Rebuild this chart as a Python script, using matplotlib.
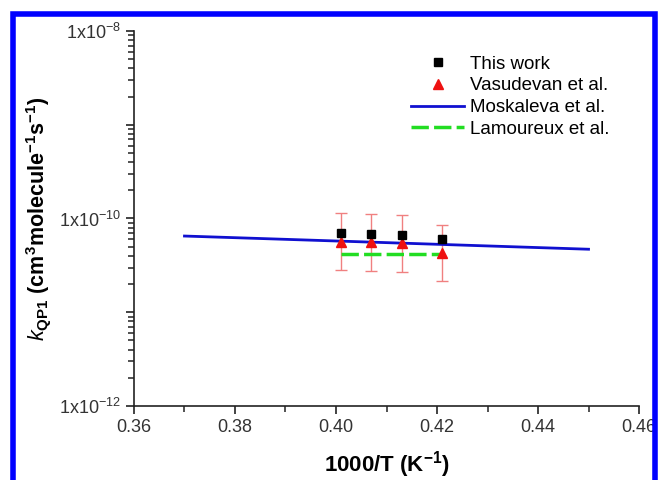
import matplotlib
matplotlib.use('Agg')
import matplotlib.pyplot as plt
from matplotlib.patches import Rectangle
from matplotlib.ticker import FixedLocator, NullFormatter, MultipleLocator, FormatStrFormatter

plt.rcParams['font.family'] = ['Liberation Sans', 'DejaVu Sans']
plt.rcParams['mathtext.fontset'] = 'custom'
plt.rcParams['mathtext.rm'] = 'Liberation Sans'
plt.rcParams['mathtext.it'] = 'Liberation Sans:italic'
plt.rcParams['mathtext.bf'] = 'Liberation Sans:bold'

# This work
x_this = [0.401, 0.407, 0.413, 0.421]
k_this = [7.0e-11, 6.85e-11, 6.7e-11, 6.05e-11]

# Vasudevan et al. (with error bars)
x_vas = [0.401, 0.407, 0.413, 0.421]
k_vas = [5.6e-11, 5.55e-11, 5.5e-11, 4.3e-11]
k_vas_hi = [1.15e-10, 1.12e-10, 1.08e-10, 8.5e-11]
k_vas_lo = [2.8e-11, 2.75e-11, 2.7e-11, 2.15e-11]

# Moskaleva et al.
x_mos = [0.37, 0.45]
k_mos = [6.5e-11, 4.7e-11]

# Lamoureux et al.
x_lam = [0.401, 0.421]
k_lam = [4.2e-11, 4.2e-11]

fig = plt.figure(figsize=(6.59, 4.80), dpi=100)
ax = fig.add_axes([0.2033, 0.1542, 0.7664, 0.7812])

err_lo = [k - lo for k, lo in zip(k_vas, k_vas_lo)]
err_hi = [hi - k for k, hi in zip(k_vas, k_vas_hi)]
ax.errorbar(x_vas, k_vas, yerr=[err_lo, err_hi], fmt='none',
            ecolor='#f08080', elinewidth=1, capsize=4.5, capthick=1, zorder=2)

ax.plot(x_mos, k_mos, color='#1010d0', lw=2, label='Moskaleva et al.', zorder=3)
ax.plot(x_lam, k_lam, color='#22dd22', lw=2.5, dashes=(5, 1.5),
        label='Lamoureux et al.', zorder=3)
ax.plot(x_vas, k_vas, ls='none', marker='^', ms=7, color='#ee1111',
        label='Vasudevan et al.', zorder=4)
ax.plot(x_this, k_this, ls='none', marker='s', ms=6, color='black',
        label='This work', zorder=5)

ax.set_yscale('log')
ax.set_xlim(0.36, 0.46)
ax.set_ylim(1e-12, 1e-8)

ax.xaxis.set_major_locator(MultipleLocator(0.02))
ax.xaxis.set_minor_locator(MultipleLocator(0.01))
ax.xaxis.set_major_formatter(FormatStrFormatter('%.2f'))

yticks = [1e-12, 1e-11, 1e-10, 1e-9, 1e-8]
yminor = [m * 10.0 ** e for e in range(-12, -8) for m in range(2, 10)]
ax.yaxis.set_major_locator(FixedLocator(yticks))
ax.yaxis.set_minor_locator(FixedLocator(yminor))
ax.yaxis.set_minor_formatter(NullFormatter())
ylabels = {1e-12: '1x10$^{-12}$', 1e-10: '1x10$^{-10}$', 1e-8: '1x10$^{-8}$'}
ax.set_yticklabels([ylabels.get(v, '') for v in yticks])

for s in ['top', 'right']:
    ax.spines[s].set_visible(False)
for s in ['left', 'bottom']:
    ax.spines[s].set_linewidth(1.2)
    ax.spines[s].set_color('#222222')

ax.tick_params(which='major', direction='out', length=6, width=1.2,
               labelsize=13, labelcolor='#333333', color='#222222')
ax.tick_params(which='minor', direction='out', length=4, width=1.1, color='#222222')

ax.set_xlabel(r'1000/T (K$^{\mathbf{-1}}$)', fontsize=16, fontweight='bold', labelpad=9)
ax.set_ylabel(r'$\mathbf{\mathit{k}}_{\mathbf{QP1}}$ (cm$^{\mathbf{3}}$molecule$^{\mathbf{-1}}$s$^{\mathbf{-1}}$)',
              fontsize=15.5, fontweight='bold', labelpad=4)

handles, labels = ax.get_legend_handles_labels()
order = [3, 2, 0, 1]
ax.legend([handles[i] for i in order], [labels[i] for i in order],
          loc='upper left', bbox_to_anchor=(0.516, 0.98), frameon=False,
          fontsize=13.5, handlelength=2.8, handletextpad=0.3, labelspacing=0.25)

fig.patches.append(Rectangle((12.5 / 659, -0.05), 642 / 659, 1 - 14 / 480 + 0.05,
                             transform=fig.transFigure, fill=False,
                             edgecolor='#0000ff', lw=4, zorder=10))

fig.savefig('out.png', dpi=100)
